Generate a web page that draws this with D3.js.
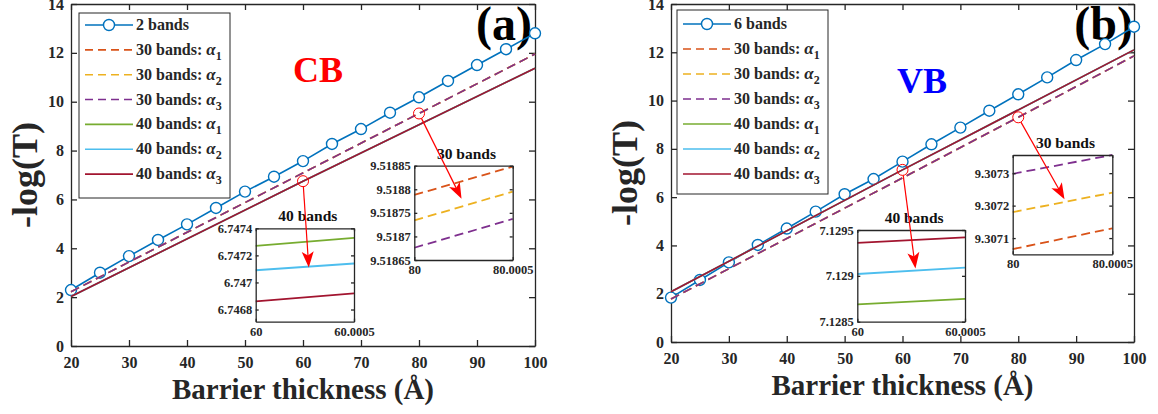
<!DOCTYPE html>
<html><head><meta charset="utf-8">
<script src="https://cdn.jsdelivr.net/npm/d3@7"></script>
<style>
body{margin:0;background:#fff}
svg{display:block}
text{font-family:"Liberation Serif","Times New Roman",serif;font-weight:bold;fill:#262626}
</style>
</head><body><svg id="c" width="1158" height="414"></svg>
<script>
// ---------------- data ----------------
const thickness = [20,25,30,35,40,45,50,55,60,65,70,75,80,85,90,95,100];
const cb2Bands = [2.29,3.00,3.68,4.34,4.98,5.65,6.32,6.93,7.57,8.27,8.88,9.55,10.18,10.85,11.50,12.15,12.80];
const vb6Bands = [1.84,2.57,3.30,4.02,4.70,5.40,6.12,6.75,7.47,8.19,8.88,9.58,10.26,10.96,11.68,12.34,13.06];
const xTicks = [20,30,40,50,60,70,80,90,100];
const yTicks = [0,2,4,6,8,10,12,14];

const line30X = [20,80,100];
const line40X = [20,60,100];
const cb30a1 = [2.2213,9.518788,11.9513];
const cb30a2 = [2.2212,9.518734,11.9512];
const cb30a3 = [2.2211,9.518676,11.9511];
const cb40a1 = [2.0235,6.74727,11.3711];
const cb40a2 = [2.0233,6.74709,11.3709];
const cb40a3 = [2.0231,6.74686,11.3707];
const vb30a1 = [1.7800,9.307066,11.8500];
const vb30a2 = [1.7801,9.307180,11.8501];
const vb30a3 = [1.7802,9.307298,11.8502];
const vb40a1 = [2.0800,7.12869,12.1000];
const vb40a2 = [2.0802,7.12902,12.1002];
const vb40a3 = [2.0804,7.12936,12.1004];

// insets
const inset30X = [80,80.0005];
const inset40X = [60,60.0005];
const cbIn30a1 = [9.518788,9.518848];
const cbIn30a2 = [9.518734,9.518795];
const cbIn30a3 = [9.518676,9.518737];
const cbIn40a1 = [6.74727,6.74733];
const cbIn40a2 = [6.74709,6.74714];
const cbIn40a3 = [6.74686,6.74692];
const vbIn30a1 = [9.307066,9.307130];
const vbIn30a2 = [9.307180,9.307240];
const vbIn30a3 = [9.307298,9.307356];
const vbIn40a1 = [7.12869,7.12875];
const vbIn40a2 = [7.12902,7.12909];
const vbIn40a3 = [7.12936,7.12942];
const cbIn30YDomain = [9.51865,9.51885];
const cbIn40YDomain = [6.74671,6.7474];
const vbIn30YDomain = [9.30705,9.307356];
const vbIn40YDomain = [7.1285,7.1295];
const cbIn30YTicks = [9.51865,9.5187,9.51875,9.5188,9.51885];
const cbIn40YTicks = [6.7468,6.747,6.7472,6.7474];
const vbIn30YTicks = [9.3071,9.3072,9.3073];
const vbIn40YTicks = [7.1285,7.129,7.1295];
// arrow tips (inset data coordinates)
const cbTip30 = [80.00024,9.51878];
const cbTip40 = [60.00027,6.74711];
const vbTip30 = [80.00026,9.30722];
const vbTip40 = [60.00027,7.12908];

const legendPrefix = ["30 bands: ","30 bands: ","30 bands: ","40 bands: ","40 bands: ","40 bands: "];
const legendSub = ["1","2","3","1","2","3"];
const insetTitles = ["30 bands","40 bands"];

// ---------------- styles ----------------
const colBase = "#0072BD";
const col30 = ["#D95319","#EDB120","#7E2F8E"];
const col40 = ["#77AC30","#4DBEEE","#A2142F"];
const axisCol = "#262626";
const fmt = d3.format("~g");

const svg = d3.select("#c");
svg.append("rect").attr("width",1158).attr("height",414).attr("fill","#fff");

function styleAxis(sel, fs){
  sel.attr("font-size",fs);
  sel.select(".domain").attr("stroke",axisCol).attr("stroke-width",1.3);
  sel.selectAll(".tick line").attr("stroke",axisCol).attr("stroke-width",1.3);
}

function drawInset(g, ins){
  const x = d3.scaleLinear().domain(ins.xDom).range([ins.l, ins.r]);
  const y = d3.scaleLinear().domain(ins.yDom).range([ins.b, ins.t]);
  g.append("rect").attr("x",ins.l).attr("y",ins.t).attr("width",ins.r-ins.l).attr("height",ins.b-ins.t)
    .attr("fill","#fff");
  const line = d3.line().x(d=>x(d[0])).y(d=>y(d[1]));
  ins.series.forEach((s,i)=>{
    g.append("path").datum(d3.zip(ins.xDom.length?ins.xv:ins.xv, s)).attr("d",line)
      .attr("fill","none").attr("stroke",ins.colors[i]).attr("stroke-width",1.8)
      .attr("stroke-dasharray",ins.dash);
  });
  const ax1 = g.append("g").attr("transform",`translate(${ins.l},0)`)
    .call(d3.axisLeft(y).tickValues(ins.yTicks).tickFormat(fmt).tickSizeInner(-3).tickSizeOuter(0).tickPadding(3.5));
  styleAxis(ax1,12.5);
  const ax2 = g.append("g").attr("transform",`translate(${ins.r},0)`)
    .call(d3.axisRight(y).tickValues(ins.yTicks).tickFormat("").tickSizeInner(-3).tickSizeOuter(0));
  styleAxis(ax2,12.5);
  const ax3 = g.append("g").attr("transform",`translate(0,${ins.b})`)
    .call(d3.axisBottom(x).tickValues(ins.xv).tickFormat(fmt).tickSizeInner(-3).tickSizeOuter(0).tickPadding(5));
  styleAxis(ax3,12.5);
  const ax4 = g.append("g").attr("transform",`translate(0,${ins.t})`)
    .call(d3.axisTop(x).tickValues(ins.xv).tickFormat("").tickSizeInner(-3).tickSizeOuter(0));
  styleAxis(ax4,12.5);
  g.append("text").attr("x",(ins.l+ins.r)/2+3).attr("y",ins.t-7).attr("text-anchor","middle")
    .attr("font-size",15.5).style("fill","#111").text(ins.title);
  return {x,y};
}

function drawArrow(g, x0, y0, x1, y1, r){
  const dx = x1-x0, dy = y1-y0, L = Math.hypot(dx,dy);
  const ux = dx/L, uy = dy/L;
  const hl = 16, hw = 6;
  const sx = x0+ux*r, sy = y0+uy*r;
  const bx = x1-ux*hl, by = y1-uy*hl;
  g.append("line").attr("x1",sx).attr("y1",sy).attr("x2",x1-ux*hl*0.6).attr("y2",y1-uy*hl*0.6)
    .attr("stroke","#ff0000").attr("stroke-width",1.2);
  const px = -uy, py = ux;
  const pts = [[x1,y1],[bx+px*hw,by+py*hw],[x1-ux*hl*0.75,y1-uy*hl*0.75],[bx-px*hw,by-py*hw]];
  g.append("path").attr("d","M"+pts.map(p=>p.join(",")).join("L")+"Z").attr("fill","#ff0000");
}

function drawPanel(p){
  const g = svg.append("g");
  const x = d3.scaleLinear().domain([20,100]).range([p.left,p.right]);
  const y = d3.scaleLinear().domain([0,14]).range([p.bottom,p.top]);

  // axes (box)
  const ab = g.append("g").attr("transform",`translate(0,${p.bottom})`)
    .call(d3.axisBottom(x).tickValues(xTicks).tickSizeInner(-6).tickSizeOuter(0).tickPadding(10.5));
  styleAxis(ab,16);
  const al = g.append("g").attr("transform",`translate(${p.left},0)`)
    .call(d3.axisLeft(y).tickValues(yTicks).tickSizeInner(-6).tickSizeOuter(0).tickPadding(7));
  styleAxis(al,16);
  const at = g.append("g").attr("transform",`translate(0,${p.top})`)
    .call(d3.axisTop(x).tickValues(xTicks).tickFormat("").tickSizeInner(-6).tickSizeOuter(0));
  styleAxis(at,16);
  const ar = g.append("g").attr("transform",`translate(${p.right},0)`)
    .call(d3.axisRight(y).tickValues(yTicks).tickFormat("").tickSizeInner(-6).tickSizeOuter(0));
  styleAxis(ar,16);

  // labels
  g.append("text").attr("x",(p.left+p.right)/2).attr("y",p.bottom+53).attr("text-anchor","middle")
    .attr("font-size",29).text("Barrier thickness (Å)");
  g.append("text").attr("transform",`translate(${p.left-34},${(p.top+p.bottom)/2}) rotate(-90)`)
    .attr("text-anchor","middle").attr("font-size",36).text("-log(T)");

  // tag and band label
  g.append("text").attr("x",p.tagX).attr("y",40).attr("text-anchor","end").attr("font-size",48)
    .style("fill","#000").text(p.tag);
  g.append("text").attr("x",p.bandX).attr("y",p.bandY).attr("text-anchor","middle").attr("font-size",36)
    .style("fill",p.bandColor).text(p.band);

  // series
  const line = d3.line().x(d=>x(d[0])).y(d=>y(d[1]));
  g.append("path").datum(d3.zip(thickness,p.base)).attr("d",line).attr("fill","none")
    .attr("stroke",colBase).attr("stroke-width",1.6);
  g.selectAll(null).data(d3.zip(thickness,p.base)).join("circle")
    .attr("cx",d=>x(d[0])).attr("cy",d=>y(d[1])).attr("r",5.5)
    .attr("fill","#fff").attr("stroke",colBase).attr("stroke-width",1.4);
  p.l30.forEach((s,i)=>{
    g.append("path").datum(d3.zip(line30X,s)).attr("d",line).attr("fill","none")
      .attr("stroke",col30[i]).attr("stroke-width",1.6).attr("stroke-dasharray","9,5");
  });
  p.l40.forEach((s,i)=>{
    g.append("path").datum(d3.zip(line40X,s)).attr("d",line).attr("fill","none")
      .attr("stroke",col40[i]).attr("stroke-width",1.6);
  });

  // legend
  const L = p.legend;
  const lg = g.append("g");
  lg.append("rect").attr("x",L.x).attr("y",L.y).attr("width",L.w).attr("height",L.h)
    .attr("fill","#fff").attr("stroke",axisCol).attr("stroke-width",1);
  const rowY = i => L.y+L.row0+i*L.step;
  const sx0 = L.x+6, sx1 = L.x+54, tx = L.x+57;
  lg.append("line").attr("x1",sx0).attr("x2",sx1).attr("y1",rowY(0)).attr("y2",rowY(0))
    .attr("stroke",colBase).attr("stroke-width",1.6);
  lg.append("circle").attr("cx",(sx0+sx1)/2).attr("cy",rowY(0)).attr("r",5.5)
    .attr("fill","#fff").attr("stroke",colBase).attr("stroke-width",1.4);
  lg.append("text").attr("x",tx).attr("y",rowY(0)+5).attr("font-size",16).text(p.baseLabel);
  legendPrefix.forEach((pre,i)=>{
    const c = i<3 ? col30[i] : col40[i-3];
    lg.append("line").attr("x1",sx0).attr("x2",sx1).attr("y1",rowY(i+1)).attr("y2",rowY(i+1))
      .attr("stroke",c).attr("stroke-width",1.6).attr("stroke-dasharray",i<3?"8,5":null);
    const t = lg.append("text").attr("x",tx).attr("y",rowY(i+1)+5).attr("font-size",16);
    t.append("tspan").text(pre);
    t.append("tspan").style("font-style","italic").attr("font-size",17).text("α");
    t.append("tspan").attr("dy",5).attr("font-size",12).text(legendSub[i]);
  });

  // insets
  const ig = g.append("g");
  const s30 = drawInset(ig,{l:p.in30[0],r:p.in30[1],t:p.in30[2],b:p.in30[3],xDom:inset30X,xv:inset30X,
    yDom:p.in30Dom,yTicks:p.in30Ticks,series:p.in30S,colors:col30,dash:"9,5",title:insetTitles[0]});
  const s40 = drawInset(ig,{l:p.in40[0],r:p.in40[1],t:p.in40[2],b:p.in40[3],xDom:inset40X,xv:inset40X,
    yDom:p.in40Dom,yTicks:p.in40Ticks,series:p.in40S,colors:col40,dash:null,title:insetTitles[1]});

  // markers + arrows
  const m30 = [x(line30X[1]), y(p.l30[1][1])];
  const m40 = [x(line40X[1]), y(p.l40[1][1])];
  [m30,m40].forEach(m=>{
    g.append("circle").attr("cx",m[0]).attr("cy",m[1]).attr("r",5.5).attr("fill","none")
      .attr("stroke","#ff0000").attr("stroke-width",1);
  });
  drawArrow(g,m30[0],m30[1],s30.x(p.tip30[0]),s30.y(p.tip30[1]),5.5);
  drawArrow(g,m40[0],m40[1],s40.x(p.tip40[0]),s40.y(p.tip40[1]),5.5);
}

drawPanel({left:71,right:535,top:4,bottom:346,base:cb2Bands,baseLabel:"2 bands",
  l30:[cb30a1,cb30a2,cb30a3], l40:[cb40a1,cb40a2,cb40a3],
  legend:{x:79,y:13,w:151,h:185,row0:12,step:24.85},
  tag:"(a)",tagX:532,band:"CB",bandColor:"#ff0000",bandX:318,bandY:82,
  in30:[414.3,512.7,165.7,260],in30Dom:cbIn30YDomain,in30Ticks:cbIn30YTicks,in30S:[cbIn30a1,cbIn30a2,cbIn30a3],
  in40:[255.7,354,228.3,321.7],in40Dom:cbIn40YDomain,in40Ticks:cbIn40YTicks,in40S:[cbIn40a1,cbIn40a2,cbIn40a3],
  tip30:cbTip30,tip40:cbTip40});

drawPanel({left:671,right:1134,top:4,bottom:342,base:vb6Bands,baseLabel:"6 bands",
  l30:[vb30a1,vb30a2,vb30a3], l40:[vb40a1,vb40a2,vb40a3],
  legend:{x:677,y:10,w:151,h:184,row0:14,step:25},
  tag:"(b)",tagX:1133,band:"VB",bandColor:"#0000ff",bandX:922,bandY:93,
  in30:[1012.7,1112.3,155,254.3],in30Dom:vbIn30YDomain,in30Ticks:vbIn30YTicks,in30S:[vbIn30a1,vbIn30a2,vbIn30a3],
  in40:[857.3,965,230,321.7],in40Dom:vbIn40YDomain,in40Ticks:vbIn40YTicks,in40S:[vbIn40a1,vbIn40a2,vbIn40a3],
  tip30:vbTip30,tip40:vbTip40});
</script>
</body></html>
